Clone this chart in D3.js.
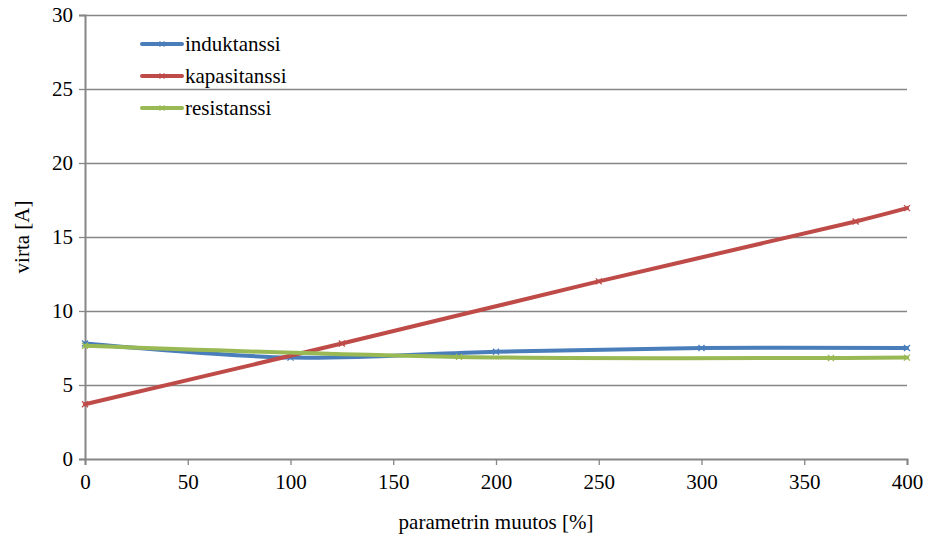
<!DOCTYPE html>
<html>
<head>
<meta charset="utf-8">
<script src="https://cdn.jsdelivr.net/npm/d3@7"></script>
</head>
<body style="margin:0">
<svg id="s" width="931" height="539" font-family="Liberation Serif"></svg>
<script>
// Series: current [A] against parameter change [%]
const induktanssiX = [0, 100, 200, 300, 400];
const induktanssiY = [7.8, 6.85, 7.25, 7.5, 7.5];

const kapasitanssiX = [0, 125, 250, 375, 400];
const kapasitanssiY = [3.7, 7.8, 12.0, 16.05, 16.95];

const resistanssiX = [0, 182, 363, 400];
const resistanssiY = [7.65, 6.9, 6.83, 6.85];

const seriesNames = ["induktanssi", "kapasitanssi", "resistanssi"];
const seriesColors = ["#4A7EBB", "#BE4B48", "#98B954"];

const xTicks = [0, 50, 100, 150, 200, 250, 300, 350, 400];
const yTicks = [0, 5, 10, 15, 20, 25, 30];

const xTitle = "parametrin muutos [%]";
const yTitle = "virta [A]";

const FS = 21;

const series = [
  { name: seriesNames[0], color: seriesColors[0], pts: induktanssiX.map((x, i) => [x, induktanssiY[i]]) },
  { name: seriesNames[1], color: seriesColors[1], pts: kapasitanssiX.map((x, i) => [x, kapasitanssiY[i]]) },
  { name: seriesNames[2], color: seriesColors[2], pts: resistanssiX.map((x, i) => [x, resistanssiY[i]]) }
];

const svg = d3.select("#s");
const margin = { left: 85, right: 24, top: 15, bottom: 80 };
const W = 931, H = 539;

const x = d3.scaleLinear().domain([0, 400]).range([margin.left, W - margin.right]);
const y = d3.scaleLinear().domain([0, 30]).range([H - margin.bottom, margin.top]);

const gridColor = "#868686";

function styleText(sel) {
  sel.attr("font-family", "Liberation Serif")
    .style("font-family", '"Liberation Serif"', "important")
    .attr("font-size", FS).attr("fill", "#000");
}

// Horizontal gridlines
svg.append("g")
  .selectAll("line")
  .data(yTicks.filter(t => t > 0))
  .join("line")
  .attr("x1", x(0)).attr("x2", x(400))
  .attr("y1", d => Math.round(y(d)) + 0.5).attr("y2", d => Math.round(y(d)) + 0.5)
  .attr("stroke", gridColor).attr("stroke-width", 1.3);

// Y axis
const yAxis = svg.append("g")
  .attr("transform", `translate(${x(0)},0)`)
  .call(d3.axisLeft(y).tickValues(yTicks).tickSize(6).tickPadding(6).tickFormat(d3.format("d")))
  .attr("font-family", "Liberation Serif");
yAxis.select(".domain").attr("stroke", gridColor).attr("stroke-width", 2);
yAxis.selectAll(".tick line").attr("stroke", gridColor).attr("stroke-width", 1.3);
yAxis.selectAll(".tick text").call(styleText);

// X axis
const xAxis = svg.append("g")
  .attr("transform", `translate(0,${y(0)})`)
  .call(d3.axisBottom(x).tickValues(xTicks).tickSize(6).tickPadding(9).tickFormat(d3.format("d")))
  .attr("font-family", "Liberation Serif");
xAxis.select(".domain").attr("stroke", gridColor).attr("stroke-width", 2);
xAxis.selectAll(".tick line").attr("stroke", gridColor).attr("stroke-width", 1.3);
xAxis.selectAll(".tick text").call(styleText);

// Axis titles
svg.append("text")
  .attr("x", (x(0) + x(400)) / 2).attr("y", 529)
  .attr("text-anchor", "middle").call(styleText).text(xTitle);

svg.append("text")
  .attr("transform", `translate(29,${y(15)}) rotate(-90)`)
  .attr("text-anchor", "middle").call(styleText).text(yTitle);

// Smoothed lines
const line = d3.line()
  .x(d => x(d[0])).y(d => y(d[1]))
  .curve(d3.curveCatmullRom.alpha(0.5));

function cross(g, cx, cy, color, s) {
  g.append("path")
    .attr("d", `M${cx - s},${cy - s}L${cx + s},${cy + s}M${cx - s},${cy + s}L${cx + s},${cy - s}`)
    .attr("stroke", color).attr("stroke-width", 1.3).attr("fill", "none");
}

const plot = svg.append("g");
series.forEach(s => {
  plot.append("path")
    .datum(s.pts)
    .attr("d", line)
    .attr("fill", "none")
    .attr("stroke", s.color)
    .attr("stroke-width", 4)
    .attr("stroke-linecap", "round");
  const mg = plot.append("g");
  s.pts.forEach(p => cross(mg, x(p[0]), y(p[1]), s.color, 3));
});

// Legend
const legend = svg.append("g").attr("transform", "translate(142,44)");
series.forEach((s, i) => {
  const g = legend.append("g").attr("transform", `translate(0,${i * 32})`);
  g.append("line").attr("x1", 0).attr("x2", 40).attr("y1", 0).attr("y2", 0)
    .attr("stroke", s.color).attr("stroke-width", 4).attr("stroke-linecap", "round");
  cross(g, 20, 0, s.color, 2.5);
  g.append("text").attr("x", 43).attr("y", 7).call(styleText).text(s.name);
});
</script>
</body>
</html>
